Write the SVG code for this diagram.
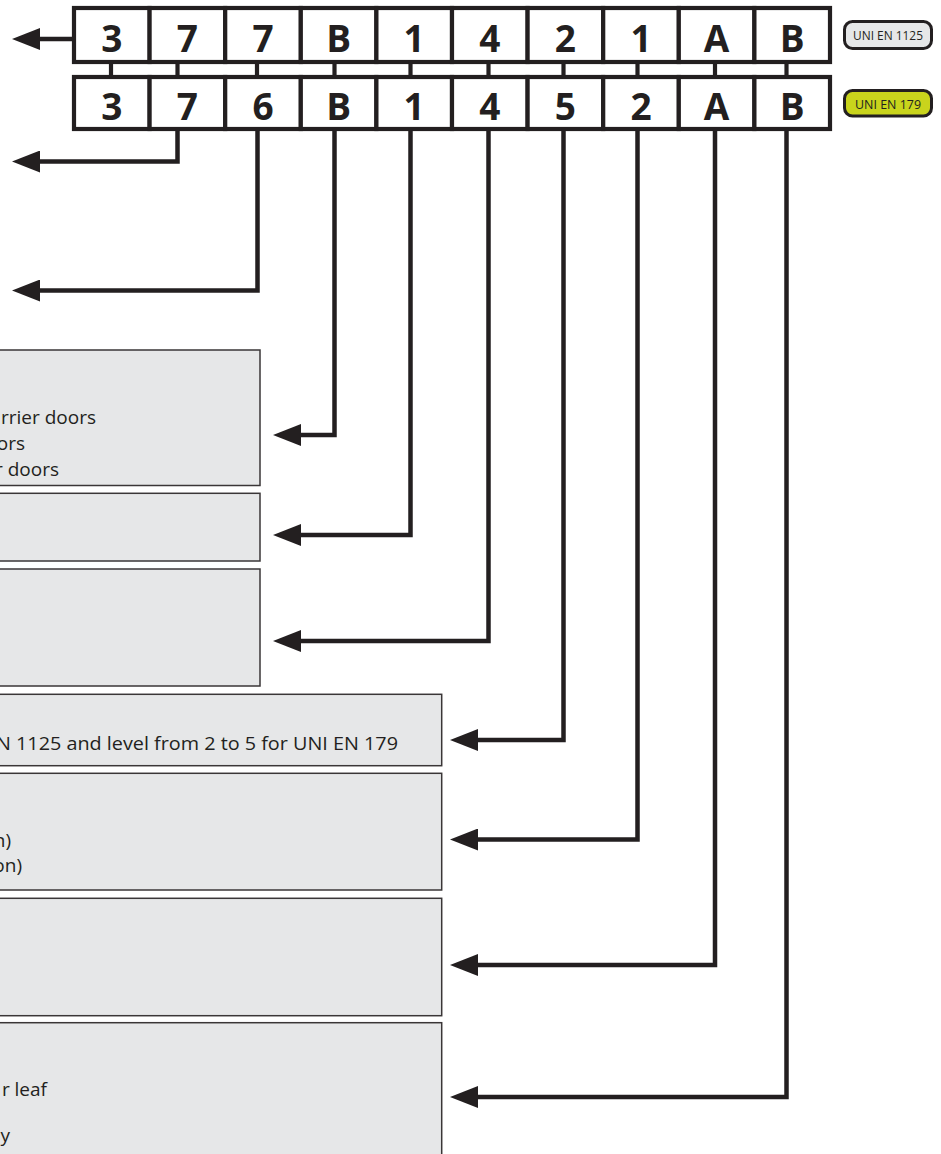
<svg xmlns="http://www.w3.org/2000/svg" width="941" height="1154" viewBox="0 0 941 1154">
<style>
.cell{fill:#ffffff;stroke:#231f20;stroke-width:4.2}
.dig{font-family:"Open Sans","Liberation Sans",sans-serif;font-weight:700;font-size:37px;fill:#231f20;text-anchor:middle}
.box{fill:#e6e7e8;stroke:#3a3637;stroke-width:1.5}
.txt{font-family:"Open Sans","Liberation Sans",sans-serif;font-size:19px;fill:#231f20;text-anchor:end}
.badge{stroke:#231f20;stroke-width:3}
.btxt{font-family:"Open Sans","Liberation Sans",sans-serif;font-size:12.5px;fill:#231f20;text-anchor:middle}
.con{fill:none;stroke:#231f20;stroke-width:4.5;stroke-linejoin:miter;stroke-linecap:butt}
.tick{fill:none;stroke:#231f20;stroke-width:4.2}
</style>
<defs>
<marker id="ah" markerUnits="userSpaceOnUse" viewBox="0 0 28 22" markerWidth="28" markerHeight="22" refX="8" refY="11" orient="auto">
<path d="M0,0 L28,11 L0,22 Z" fill="#231f20"/>
</marker>
</defs>

<g id="row-en1125">
<rect class="cell" x="74" y="8" width="75.6" height="54"/>
<rect class="cell" x="149.6" y="8" width="75.6" height="54"/>
<rect class="cell" x="225.2" y="8" width="75.6" height="54"/>
<rect class="cell" x="300.8" y="8" width="75.6" height="54"/>
<rect class="cell" x="376.4" y="8" width="75.6" height="54"/>
<rect class="cell" x="452" y="8" width="75.6" height="54"/>
<rect class="cell" x="527.6" y="8" width="75.6" height="54"/>
<rect class="cell" x="603.2" y="8" width="75.6" height="54"/>
<rect class="cell" x="678.8" y="8" width="75.6" height="54"/>
<rect class="cell" x="754.4" y="8" width="75.6" height="54"/>
<text class="dig" x="111.8" y="52">3</text>
<text class="dig" x="187.4" y="52">7</text>
<text class="dig" x="263" y="52">7</text>
<text class="dig" x="338.6" y="52">B</text>
<text class="dig" x="414.2" y="52">1</text>
<text class="dig" x="489.8" y="52">4</text>
<text class="dig" x="565.4" y="52">2</text>
<text class="dig" x="641" y="52">1</text>
<text class="dig" x="716.6" y="52">A</text>
<text class="dig" x="792.2" y="52">B</text>
</g>

<g id="row-en179">
<rect class="cell" x="74" y="77" width="75.6" height="52"/>
<rect class="cell" x="149.6" y="77" width="75.6" height="52"/>
<rect class="cell" x="225.2" y="77" width="75.6" height="52"/>
<rect class="cell" x="300.8" y="77" width="75.6" height="52"/>
<rect class="cell" x="376.4" y="77" width="75.6" height="52"/>
<rect class="cell" x="452" y="77" width="75.6" height="52"/>
<rect class="cell" x="527.6" y="77" width="75.6" height="52"/>
<rect class="cell" x="603.2" y="77" width="75.6" height="52"/>
<rect class="cell" x="678.8" y="77" width="75.6" height="52"/>
<rect class="cell" x="754.4" y="77" width="75.6" height="52"/>
<text class="dig" x="111.8" y="119.5">3</text>
<text class="dig" x="187.4" y="119.5">7</text>
<text class="dig" x="263" y="119.5">6</text>
<text class="dig" x="338.6" y="119.5">B</text>
<text class="dig" x="414.2" y="119.5">1</text>
<text class="dig" x="489.8" y="119.5">4</text>
<text class="dig" x="565.4" y="119.5">5</text>
<text class="dig" x="641" y="119.5">2</text>
<text class="dig" x="716.6" y="119.5">A</text>
<text class="dig" x="792.2" y="119.5">B</text>
</g>

<g id="badge-en1125">
<rect class="badge" x="844.5" y="21.5" width="87" height="27" rx="8" fill="#e6e7e8"/>
<text class="btxt" x="888" y="39.5" textLength="70" lengthAdjust="spacingAndGlyphs">UNI EN 1125</text>
</g>
<g id="badge-en179">
<rect class="badge" x="844.5" y="90.5" width="87" height="25.5" rx="8" fill="#c9d41c"/>
<text class="btxt" x="888" y="109" textLength="66" lengthAdjust="spacingAndGlyphs">UNI EN 179</text>
</g>

<g id="box-1">
<rect class="box" x="-10" y="350" width="270" height="135.5"/>
<text class="txt" x="96" y="424">rrier doors</text>
<text class="txt" x="25" y="450">ors</text>
<text class="txt" x="59" y="476">r doors</text>
</g>
<g id="box-2">
<rect class="box" x="-10" y="493.3" width="270" height="67.7"/>
</g>
<g id="box-3">
<rect class="box" x="-10" y="569" width="270" height="117"/>
</g>
<g id="box-4">
<rect class="box" x="-10" y="694.3" width="451.7" height="71.4"/>
<text class="txt" x="398" y="750" textLength="402" lengthAdjust="spacingAndGlyphs">N 1125 and level from 2 to 5 for UNI EN 179</text>
</g>
<g id="box-5">
<rect class="box" x="-10" y="773.3" width="451.7" height="116.7"/>
<text class="txt" x="11" y="847">n)</text>
<text class="txt" x="22" y="872">on)</text>
</g>
<g id="box-6">
<rect class="box" x="-10" y="898.3" width="451.7" height="117.4"/>
</g>
<g id="box-7">
<rect class="box" x="-10" y="1022.7" width="451.7" height="150"/>
<text class="txt" x="47" y="1096">r leaf</text>
<text class="txt" x="10" y="1142">y</text>
</g>

<g id="connectors">
<line class="tick" x1="111" y1="62" x2="111" y2="77"/>
<line class="tick" x1="177.5" y1="62" x2="177.5" y2="77"/>
<line class="tick" x1="257" y1="62" x2="257" y2="77"/>
<line class="tick" x1="334.5" y1="62" x2="334.5" y2="77"/>
<line class="tick" x1="410.5" y1="62" x2="410.5" y2="77"/>
<line class="tick" x1="488.5" y1="62" x2="488.5" y2="77"/>
<line class="tick" x1="563.5" y1="62" x2="563.5" y2="77"/>
<line class="tick" x1="637.5" y1="62" x2="637.5" y2="77"/>
<line class="tick" x1="715" y1="62" x2="715" y2="77"/>
<line class="tick" x1="786.5" y1="62" x2="786.5" y2="77"/>
<path class="con" d="M74,39 H32" marker-end="url(#ah)"/>
<path class="con" d="M177.5,129 V161.5 H32" marker-end="url(#ah)"/>
<path class="con" d="M257.5,129 V290.5 H32" marker-end="url(#ah)"/>
<path class="con" d="M334.5,129 V435 H293" marker-end="url(#ah)"/>
<path class="con" d="M410.5,129 V535 H293" marker-end="url(#ah)"/>
<path class="con" d="M488.5,129 V641 H293" marker-end="url(#ah)"/>
<path class="con" d="M563.5,129 V740 H470" marker-end="url(#ah)"/>
<path class="con" d="M637.5,129 V839.5 H470" marker-end="url(#ah)"/>
<path class="con" d="M715,129 V965 H470" marker-end="url(#ah)"/>
<path class="con" d="M786.5,129 V1097 H470" marker-end="url(#ah)"/>
</g>
</svg>
